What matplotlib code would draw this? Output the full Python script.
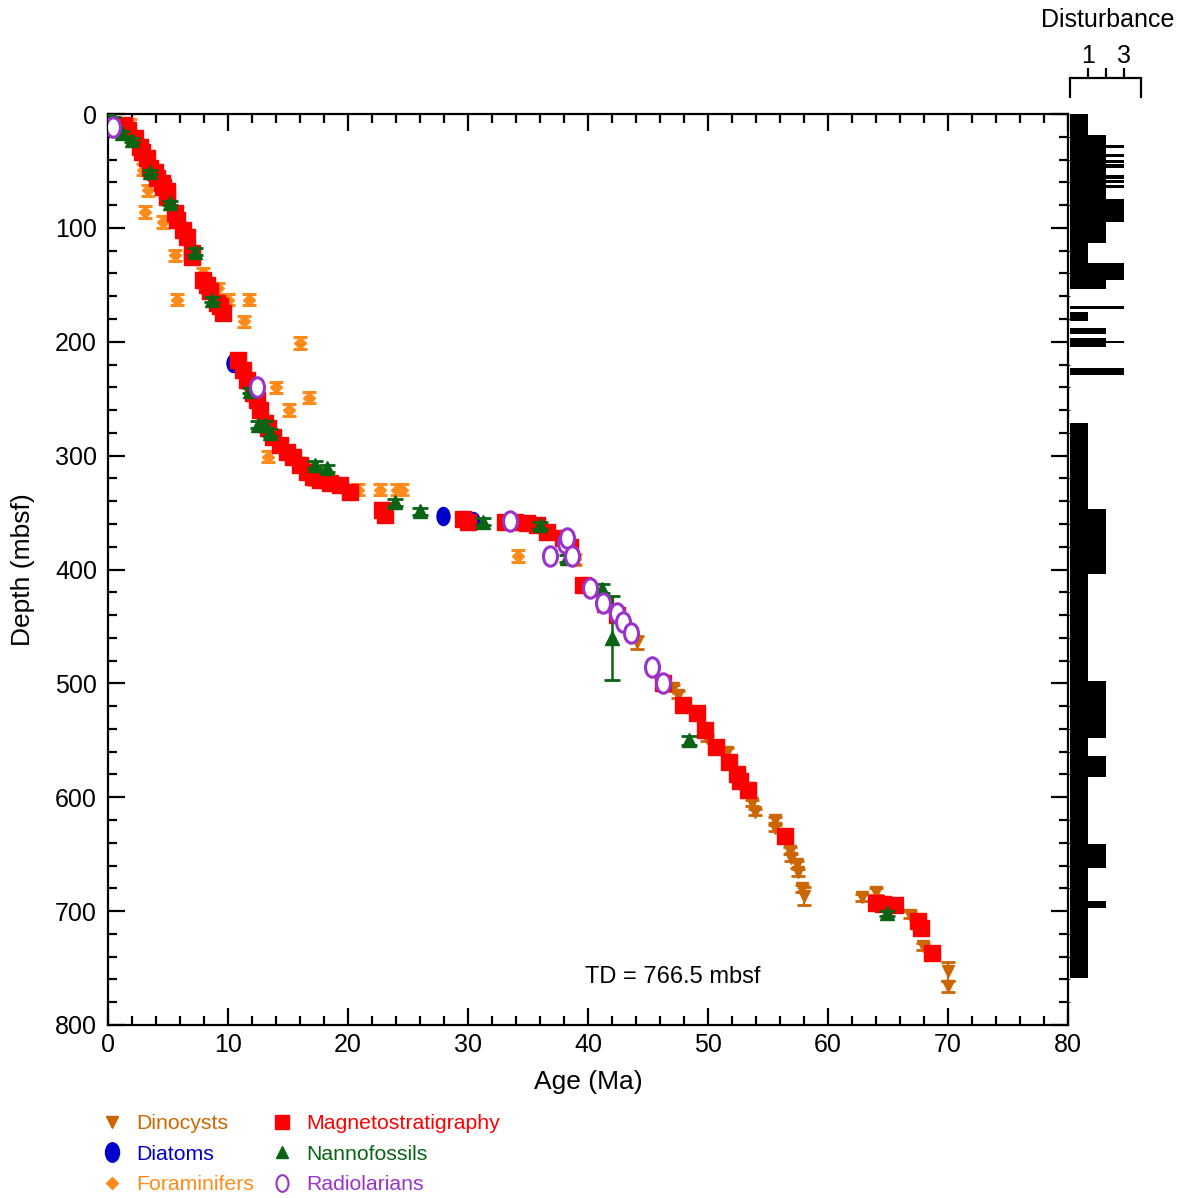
import numpy as np
import matplotlib
matplotlib.use("Agg")
import matplotlib.pyplot as plt
from matplotlib.lines import Line2D
from matplotlib.markers import MarkerStyle
from matplotlib.transforms import Affine2D

plt.rcParams['font.family'] = ['Liberation Sans', 'DejaVu Sans']

# ---------------- data (age Ma, depth mbsf) ----------------
dino_age = [38.8, 44.1, 47.1, 47.5, 49.9, 51.6, 51.8, 53.7, 53.9, 55.6, 55.6, 56.8, 56.9,
            57.4, 57.5, 57.8, 58.0, 62.8, 64.0, 66.8, 67.9, 70.0, 70.0]
dino_depth = [392, 464, 504, 510, 548, 560, 572, 605, 613, 620, 627, 647, 653,
              659, 666, 680, 687, 688, 683, 703, 731, 753, 766]
dino_err = [3, 6, 3, 3, 3, 3, 3, 3, 3, 3, 3, 3, 3, 3, 3, 3, 8, 3, 3, 3, 3, 8, 5]

diatom_age = [10.4, 27.9, 30.4]
diatom_depth = [219, 353, 357]

foram_age = [1.8, 2.9, 3.3, 3.1, 4.6, 5.6, 5.75, 7.9, 9.2, 10.0, 11.75, 11.3, 16.0,
             14.0, 16.75, 15.1, 13.3, 16.6, 17.25, 20.8, 22.7, 24.1, 24.5, 34.2, 38.9]
foram_depth = [9, 49, 67, 86, 95, 124, 163, 140, 153, 163, 163, 182, 201,
               240, 249, 260, 301, 311, 321, 330, 330, 330, 330, 388, 391]
foram_err = [5] * len(foram_age)

mag_age = [1.3, 1.7, 2.25, 2.7, 2.8, 3.25, 3.5, 3.9, 4.1, 4.5, 4.6, 4.9, 4.9, 5.6, 5.75,
           6.25, 6.6, 7.0, 7.0, 7.9, 8.25, 8.5, 9.1, 9.3, 9.6, 10.8, 11.25, 11.6, 12.1,
           12.4, 12.7, 13.1, 13.3, 13.75, 14.3, 14.9, 15.4, 16.0, 16.6, 17.1, 17.7, 18.5,
           19.3, 20.2, 22.8, 23.1, 29.6, 30.0, 33.1, 33.9, 34.9, 35.75, 36.6, 37.9, 38.5,
           39.6, 41.4, 42.4, 46.25, 47.9, 49.1, 49.75, 50.7, 51.75, 52.4, 52.7, 53.3,
           56.4, 64.0, 64.6, 65.6, 67.5, 67.75, 68.7]
mag_depth = [10, 14, 21, 29, 33, 39, 47, 51, 56, 61, 64, 68, 73, 87, 93,
             102, 108, 122, 126, 146, 150, 155, 166, 169, 175, 216, 225, 234, 245,
             251, 260, 271, 276, 284, 291, 297, 301, 308, 314, 319, 321, 324,
             326, 332, 348, 352, 356, 358, 358, 358, 359, 361, 367, 372, 380,
             414, 430, 440, 500, 519, 526, 541, 556, 569, 580, 586, 594,
             634, 693, 694, 695, 709, 715, 737]

nanno_age = [0.0, 0.4, 1.2, 2.0, 3.5, 5.2, 7.25, 8.7, 11.8, 12.5, 13.1, 13.5, 17.25, 18.25,
             23.9, 26.0, 31.25, 36.0, 38.25, 41.2, 42.0, 48.4, 64.9]
nanno_depth = [0, 5, 17, 23, 51, 78, 121, 163, 243, 273, 273, 280, 308, 311,
               341, 349, 358, 361, 390, 417, 460, 550, 702]
nanno_err = [2, 2, 2, 2, 2, 2, 3, 2, 2, 3, 3, 3, 3, 3, 3, 3, 3, 3, 3, 4, 37, 4, 2]

radio_age = [0.4, 12.4, 33.5, 36.8, 38.1, 38.25, 38.7, 40.2, 41.25, 42.4, 42.9, 43.6, 45.3, 46.25]
radio_depth = [11, 240, 357, 388, 377, 372, 388, 416, 429, 438, 446, 456, 486, 500]

# drilling disturbance intervals (top, bottom, level)
dist_top = [0, 18.4, 113, 131, 146, 75, 27, 35, 40.5, 44, 54, 58, 62,
            169, 174, 188, 197, 199, 223, 271, 347, 498, 564, 641, 691]
dist_bot = [18.4, 113, 131, 146, 154, 95, 29.8, 37.8, 43.3, 47.5, 56.8, 60.8, 64.8,
            171.3, 182, 193, 205, 201.5, 229, 759, 404, 548, 582, 662, 697]
dist_level = [1, 2, 1, 3, 2, 3, 3, 3, 3, 3, 3, 3, 3,
              3, 1, 2, 2, 3, 3, 1, 2, 2, 2, 2, 2]

c_dino = '#CC6600'
c_diatom = '#0000CC'
c_foram = '#FF8C1A'
c_mag = '#FF0000'
c_nanno = '#0A6414'
c_radio = '#9933CC'

ellipse = MarkerStyle('o', transform=Affine2D().scale(0.72, 1.0))

fig = plt.figure(figsize=(11.86, 11.98), dpi=100)
ax = fig.add_axes([108/1186, 1-1025/1198, 960/1186, 911/1198])
axd = fig.add_axes([1070/1186, 1-1025/1198, 71/1186, 911/1198], sharey=ax)

# ---------------- main age-depth plot ----------------
ax.errorbar(foram_age, foram_depth, yerr=foram_err, fmt='D', ms=6.5, color=c_foram,
            capsize=5, elinewidth=1.5, capthick=2.2, zorder=2)
ax.plot(diatom_age, diatom_depth, ls='none', marker=ellipse, ms=13, color=c_diatom, zorder=2)
ax.errorbar(dino_age, dino_depth, yerr=dino_err, fmt='v', ms=9, color=c_dino,
            capsize=5, elinewidth=1.5, capthick=2, zorder=3)
ax.plot(mag_age, mag_depth, ls='none', marker='s', ms=11, color=c_mag, zorder=4)
ax.errorbar(nanno_age, nanno_depth, yerr=nanno_err, fmt='^', ms=10, color=c_nanno,
            capsize=6, elinewidth=1.8, capthick=2, zorder=5)
ax.plot(radio_age, radio_depth, ls='none', marker=ellipse, ms=14, mfc='white',
        mec=c_radio, mew=2.2, zorder=6)

ax.text(47.1, 758, 'TD = 766.5 mbsf', fontsize=17, ha='center', va='center')

ax.set_xlim(0, 80)
ax.set_ylim(800, 0)
ax.set_xticks(np.arange(0, 81, 10))
ax.set_xticks(np.arange(0, 81, 2), minor=True)
ax.set_yticks(np.arange(0, 801, 100))
ax.set_yticks(np.arange(0, 801, 20), minor=True)
ax.tick_params(which='both', direction='in', top=True, right=True, width=1.6,
               labelsize=18)
ax.tick_params(which='major', length=12)
ax.tick_params(which='minor', length=6.5)
ax.tick_params(axis='y', pad=8)
ax.tick_params(axis='x', pad=6)
for s in ax.spines.values():
    s.set_linewidth(1.6)
ax.set_xlabel('Age (Ma)', fontsize=19, labelpad=9)
ax.set_ylabel('Depth (mbsf)', fontsize=19, labelpad=14)

# ---------------- disturbance column ----------------
heights = [b - t for t, b in zip(dist_top, dist_bot)]
axd.barh(dist_top, dist_level, height=heights, left=0, align='edge',
         color='black', edgecolor='none')
axd.set_xlim(0, 71/18)
for k in ['left', 'right', 'bottom']:
    axd.spines[k].set_visible(False)
axd.spines['top'].set_position(('outward', 26))
axd.spines['top'].set_linewidth(1.6)
axd.xaxis.set_ticks_position('top')
axd.set_xticks([1, 2, 3])
axd.set_xticklabels(['1', '', '3'])
axd.tick_params(axis='x', direction='out', length=7, width=1.6, labelsize=18, pad=0)
axd.tick_params(axis='y', left=False, labelleft=False)
for xe in (0, 1):
    axd.plot([xe, xe], [1.0176, 1.0395], transform=axd.transAxes, color='black',
             lw=1.6, clip_on=False, solid_capstyle='butt')
fig.text(1108/1186, 1-20/1198, 'Disturbance', fontsize=18, ha='center', va='center')

# ---------------- legend ----------------
handles = [
    Line2D([], [], ls='none', marker='v', ms=9, color=c_dino),
    Line2D([], [], ls='none', marker=ellipse, ms=14, color=c_diatom),
    Line2D([], [], ls='none', marker='D', ms=6, color=c_foram),
    Line2D([], [], ls='none', marker='s', ms=10.5, color=c_mag),
    Line2D([], [], ls='none', marker='^', ms=9, color=c_nanno),
    Line2D([], [], ls='none', marker=ellipse, ms=12, mfc='white', mec=c_radio, mew=1.5),
]
labels = ['Dinocysts', 'Diatoms', 'Foraminifers', 'Magnetostratigraphy',
          'Nannofossils', 'Radiolarians']
fig.legend(handles, labels, ncol=2, loc='upper left',
           bbox_to_anchor=(100/1186, 1-1114/1198), frameon=False, fontsize=15.3,
           labelcolor=[c_dino, c_diatom, c_foram, c_mag, c_nanno, c_radio],
           handletextpad=0.6, columnspacing=0.75, labelspacing=0.55, handlelength=1.1,
           borderpad=0, borderaxespad=0)

fig.savefig('out.png', dpi=100)
